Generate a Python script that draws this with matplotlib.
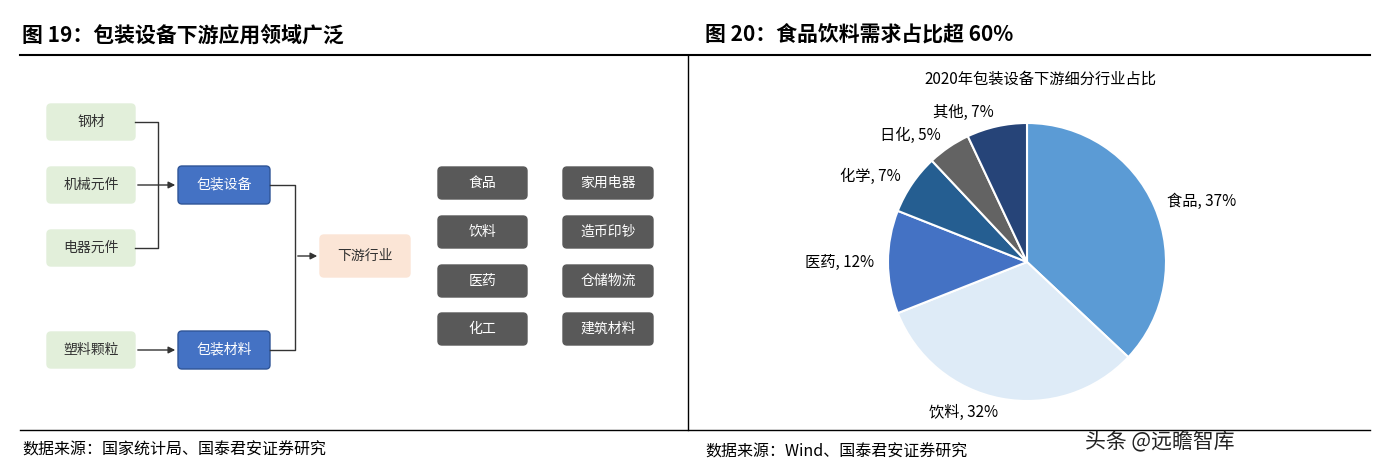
import matplotlib.pyplot as plt
from matplotlib.patches import FancyBboxPatch

plt.rcParams["font.family"] = "Noto Sans CJK SC"

# flowchart text
inputs = ["钢材", "机械元件", "电器元件", "塑料颗粒"]
middle = ["包装设备", "包装材料"]
target = "下游行业"
apps_left = ["食品", "饮料", "医药", "化工"]
apps_right = ["家用电器", "造币印钞", "仓储物流", "建筑材料"]

# pie data
pie_labels = ["食品", "饮料", "医药", "化学", "日化", "其他"]
pie_values = [37, 32, 12, 7, 5, 7]
pie_colors = ["#5B9BD5", "#DEEBF7", "#4472C4", "#255E91", "#636363", "#264478"]

fig = plt.figure(figsize=(13.84, 4.75), dpi=100)
ax = fig.add_axes([0, 0, 1, 1])
ax.set_xlim(0, 1384)
ax.set_ylim(475, 0)
ax.axis("off")

ax.text(22, 35, "图 19：包装设备下游应用领域广泛", fontsize=15, fontweight="bold", va="center")
ax.text(705, 35, "图 20：食品饮料需求占比超 60%", fontsize=15, fontweight="bold", va="center")
ax.plot([20, 1370], [55, 55], color="black", lw=1.5)
ax.plot([20, 1370], [430, 430], color="black", lw=1.0)
ax.plot([688, 688], [55, 430], color="black", lw=1.0)
ax.text(22, 450, "数据来源：国家统计局、国泰君安证券研究", fontsize=11.5, va="center")
ax.text(705, 452, "数据来源：Wind、国泰君安证券研究", fontsize=11.5, va="center")
ax.text(1085, 442, "头条 @远瞻智库", fontsize=15, va="center", color="#222222")


def box(x0, y0, x1, y1, text, fc, tc="#333333", ec=None):
    ax.add_patch(FancyBboxPatch((x0, y0), x1 - x0, y1 - y0,
                                boxstyle="round,pad=0,rounding_size=4",
                                fc=fc, ec=ec if ec else fc, lw=1))
    ax.text((x0 + x1) / 2, (y0 + y1) / 2, text, ha="center", va="center",
            fontsize=10, color=tc)


in_y = [122, 185, 248, 350]
for name, y in zip(inputs, in_y):
    box(47, y - 18, 135, y + 18, name, "#E2EFDA")
mid_y = [185, 350]
for name, y in zip(middle, mid_y):
    box(178, y - 19, 270, y + 19, name, "#4472C4", tc="white", ec="#2F5597")
box(320, 235, 410, 277, target, "#FBE5D6")

rows = [183, 232, 281, 329]
for name, y in zip(apps_left, rows):
    box(438, y - 16, 527, y + 16, name, "#595959", tc="white")
for name, y in zip(apps_right, rows):
    box(563, y - 16, 653, y + 16, name, "#595959", tc="white")

lk = dict(color="#333333", lw=1)
ak = dict(arrowstyle="-|>", color="#333333", lw=1, mutation_scale=10)
ax.plot([135, 158, 158, 135], [122, 122, 248, 248], **lk)
ax.annotate("", xy=(178, 185), xytext=(135, 185), arrowprops=ak)
ax.annotate("", xy=(178, 350), xytext=(135, 350), arrowprops=ak)
ax.plot([270, 295, 295, 270], [185, 185, 350, 350], **lk)
ax.annotate("", xy=(320, 256), xytext=(295, 256), arrowprops=ak)

# pie
ax.text(1040, 79, "2020年包装设备下游细分行业占比", fontsize=11, ha="center", va="center")
r = 139
cx, cy = 1027, 262
pax = fig.add_axes([(cx - r) / 1384, 1 - (cy + r) / 475, 2 * r / 1384, 2 * r / 475])
wedges, texts = pax.pie(pie_values, colors=pie_colors, startangle=90, counterclock=False,
                        labels=[f"{l}, {v}%" for l, v in zip(pie_labels, pie_values)],
                        labeldistance=1.1, radius=1,
                        wedgeprops=dict(edgecolor="white", linewidth=1.5),
                        textprops=dict(fontsize=11))
pax.set_xlim(-1, 1)
pax.set_ylim(-1, 1)
pax.set_aspect("equal")

fig.savefig("out.png", dpi=100)
